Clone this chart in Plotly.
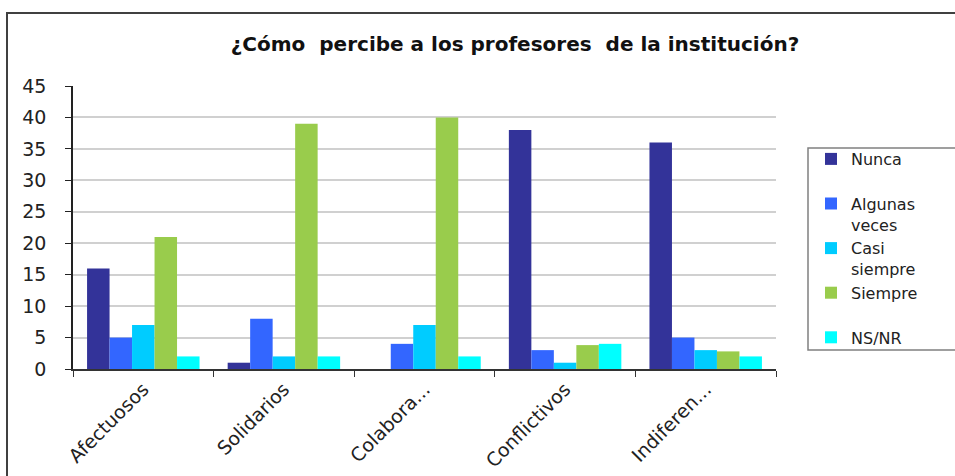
import plotly.graph_objects as go

# --- data ---
categorias = ['Afectuosos', 'Solidarios', 'Colabora...', 'Conflictivos', 'Indiferen...']
nunca = [16, 1, 0, 38, 36]
algunas_veces = [5, 8, 4, 3, 5]
casi_siempre = [7, 2, 7, 1, 3]
siempre = [21, 39, 40, 3.8, 2.8]
ns_nr = [2, 2, 2, 4, 2]

series = [
    ('Nunca<br>&nbsp;', nunca, '#333399'),
    ('Algunas<br>veces', algunas_veces, '#3366FF'),
    ('Casi<br>siempre', casi_siempre, '#00CCFF'),
    ('Siempre<br>&nbsp;', siempre, '#99CC4C'),
    ('NS/NR<br>&nbsp;', ns_nr, '#00FFFF'),
]

W, H = 955, 476
L, R, T, B = 73, 179, 86, 107
pw, ph = W - L - R, H - T - B

fig = go.Figure()
for name, vals, color in series:
    fig.add_bar(x=categorias, y=vals, name=name, marker_color=color,
                marker_line_width=0)


def px_x(x):
    return (x - L) / pw


def px_y(y):
    return (H - B - y) / ph


# outer frame of the chart (runs off the right and bottom edges)
fig.add_shape(type='rect', xref='paper', yref='paper',
              x0=px_x(7), x1=px_x(960), y0=px_y(480), y1=px_y(13),
              line=dict(color='#404040', width=2), layer='below')
# legend box
fig.add_shape(type='rect', xref='paper', yref='paper',
              x0=px_x(808), x1=px_x(960), y0=px_y(350), y1=px_y(148),
              line=dict(color='#808080', width=1.5))

fig.update_layout(
    width=W, height=H,
    margin=dict(l=L, r=R, t=T, b=B, autoexpand=False),
    paper_bgcolor='white', plot_bgcolor='white',
    font=dict(family='DejaVu Sans', size=16, color='#222222'),
    title=dict(text='<b>¿Cómo  percibe a los profesores  de la institución?</b>',
               x=515 / W, xanchor='center', y=1 - 44 / H, yanchor='middle',
               font=dict(size=20, color='#111111')),
    barmode='group', bargap=0.2, bargroupgap=0,
    showlegend=True,
    legend=dict(x=px_x(811), y=px_y(142), xanchor='left', yanchor='top',
                bgcolor='rgba(0,0,0,0)', borderwidth=0, valign='top',
                font=dict(size=16, color='#222222'), tracegroupgap=0,
                itemclick=False),
    xaxis=dict(showline=True, linecolor='#333333', linewidth=1.5,
               ticks='outside', tickson='boundaries', ticklen=6,
               tickcolor='#333333', tickangle=-45,
               tickfont=dict(size=19), showgrid=False),
    yaxis=dict(range=[0, 45], dtick=5, showline=True, linecolor='#222222',
               linewidth=1.5, ticks='outside', ticklen=6, tickcolor='#222222',
               gridcolor='#D0D0D0', gridwidth=2, zeroline=False,
               ticklabelstandoff=15, tickfont=dict(size=19)),
)

fig.write_html('out.html', config={'displayModeBar': False},
               post_script="document.body.style.margin='0';")
